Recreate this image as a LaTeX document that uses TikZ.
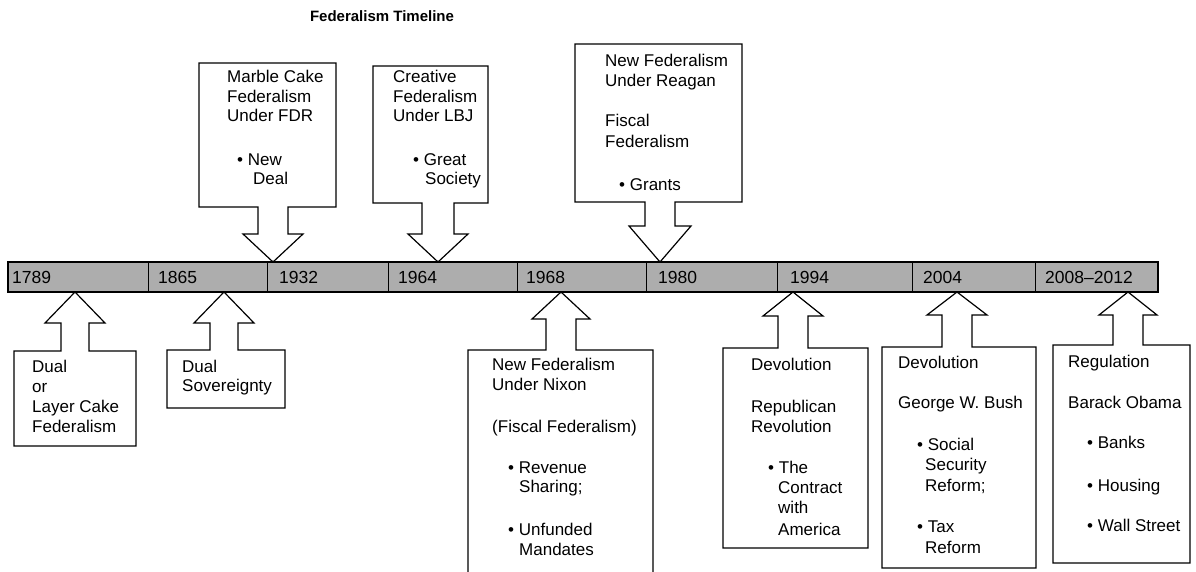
\documentclass[tikz,border=0pt]{standalone}
\usepackage{fontspec}
\setmainfont{Liberation Sans}
\newcommand{\mkcallout}[9]{%
  % #1 tip x, #2 tip y, #3 head base y, #4 head half width, #5 shaft half width,
  % #6 box left, #7 box right, #8 box edge joined to arrow, #9 far box edge
  \draw[callline] (#6,#8) -- ({#1-#5},#8) -- ({#1-#5},#3) -- ({#1-#4},#3) -- (#1,#2)
    -- ({#1+#4},#3) -- ({#1+#5},#3) -- ({#1+#5},#8) -- (#7,#8) -- (#7,#9) -- (#6,#9) -- cycle;}
\begin{document}
\begin{tikzpicture}[x=1pt,y=-1pt,
  callline/.style={draw=black, line width=1.2pt, line join=miter, fill=white},
  txt/.style={anchor=base west, inner sep=0pt, font=\fontsize{17}{20}\selectfont},
  yr/.style={anchor=base west, inner sep=0pt, font=\fontsize{17.5}{20}\selectfont},
  barbox/.style={draw=black, line width=1.2pt, fill=black!32},
  sep/.style={draw=black, line width=1pt}]
\useasboundingbox (0,0) rectangle (1196,572);
\fill[white] (0,0) rectangle (1196,572);

% title
\node[anchor=base, inner sep=0pt, font=\fontsize{15}{18}\selectfont\bfseries] (title) at (382,22) {Federalism Timeline};

% timeline bar
\draw[barbox] (8,262) rectangle (1158,292);
\foreach \d [count=\i] in {148,267,388,517,646,777,912,1035}
  \draw[sep] (\d,262) -- (\d,292);
\foreach \t/\x [count=\i] in {1789/12,1865/158,1932/279,1964/398,1968/526,1980/658,1994/790,2004/923,2008--2012/1045}
  \node[yr] (y\i) at (\x,283) {\t};

% callouts
\mkcallout{273}{262}{234}{30}{15}{199}{336}{207}{63}
\mkcallout{438}{262}{234}{30}{16}{373}{488}{203}{66}
\mkcallout{660}{262}{226}{31}{15}{575}{742}{202}{44}
\mkcallout{75}{292}{323}{30}{14}{14}{136}{351}{446}
\mkcallout{224}{292}{323}{30}{14}{167}{285}{350}{408}
\mkcallout{561}{292}{319}{29}{15}{468}{653}{350}{600}
\mkcallout{793}{292}{316}{30}{15}{723}{868}{348}{548}
\mkcallout{957}{292}{315}{30}{15}{882}{1036}{347}{568}
\mkcallout{1128}{292}{315}{29}{15}{1053}{1190}{345}{563}

% texts
\foreach \t/\x/\y [count=\i] in {
  Marble Cake/227/83, Federalism/227/103, Under FDR/227/122, • New/237/166, Deal/253/185,
  Creative/393/83, Federalism/393/103, Under LBJ/393/122, • Great/413/166, Society/425/185,
  New Federalism/605/67, Under Reagan/605/87, Fiscal/605/127, Federalism/605/148, • Grants/619/190,
  Dual/32/372, or/32/392, Layer Cake/32/412, Federalism/32/432,
  Dual/182/372, Sovereignty/182/391,
  New Federalism/492/370, Under Nixon/492/390, {(Fiscal Federalism)}/492/432, • Revenue/508/473, Sharing;/519/492, • Unfunded/508/535, Mandates/519/555,
  Devolution/751/370, Republican/751/412, Revolution/751/432, • The/768/473, Contract/778/493, with/778/513, America/778/535,
  Devolution/898/368, George W. Bush/898/408, • Social/917/450, Security/925/470, Reform;/925/491, • Tax/917/532, Reform/925/553,
  Regulation/1068/367, Barack Obama/1068/408, • Banks/1087/448, • Housing/1087/491, • Wall Street/1087/531}
  \node[txt] (t\i) at (\x,\y) {\t};
\end{tikzpicture}
\end{document}
